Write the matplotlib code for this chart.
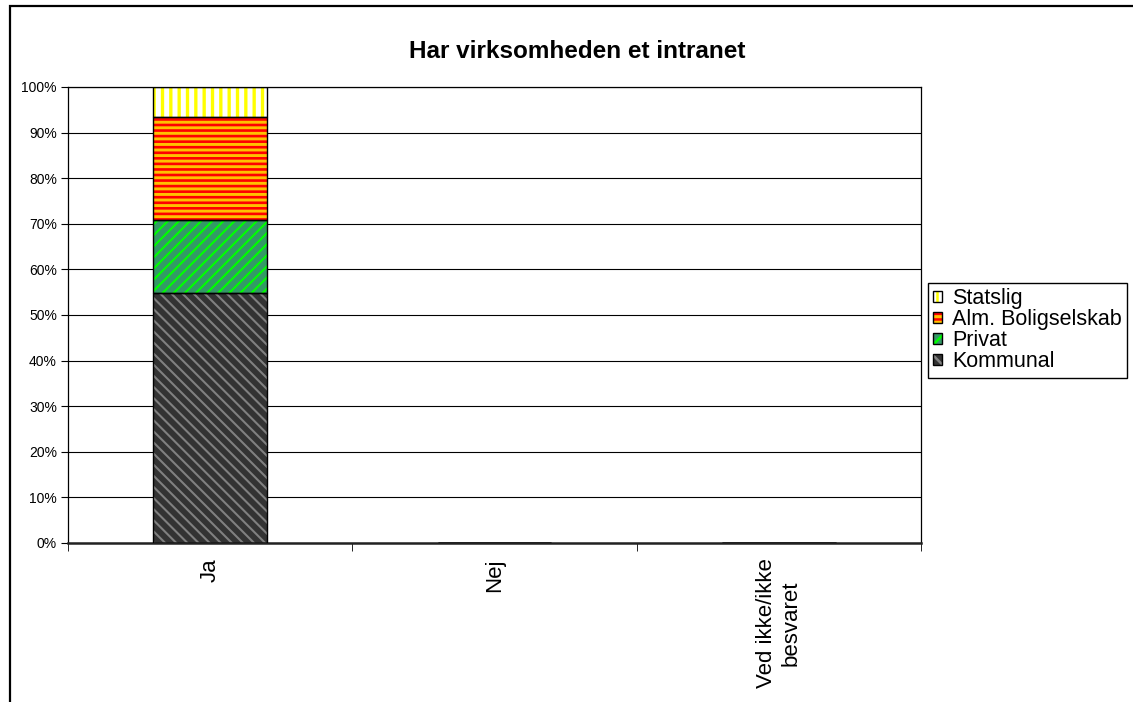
import matplotlib.pyplot as plt
import numpy as np
from matplotlib.patches import Patch, Rectangle

# data (andel i procent)
categories = ['Ja', 'Nej', 'Ved ikke/ikke\nbesvaret']
series_names = ['Kommunal', 'Privat', 'Alm. Boligselskab', 'Statslig']
kommunal = [54.8, 0, 0]
privat = [16.1, 0, 0]
alm_bolig = [22.6, 0, 0]
statslig = [6.5, 0, 0]
y_ticks = np.arange(0, 101, 10)

# fill, stripe colour, hatch, stripe width
styles = [
    ('#333333', '#808080', '\\\\\\', 1.5),
    ('#339966', '#00FF00', '///', 1.5),
    ('#FFC000', '#FF0000', '---', 1.9),
    ('#FFFFFF', '#FFFF00', '||', 2.4),
]

plt.rcParams['font.family'] = ['Liberation Sans', 'DejaVu Sans']

W, H = 1133, 702
fig = plt.figure(figsize=(W / 100, H / 100), dpi=100)
ax = fig.add_axes([68 / W, 1 - 543 / H, (921 - 68) / W, (543 - 87) / H])

x = np.arange(len(categories))
data = [kommunal, privat, alm_bolig, statslig]
bottom = np.zeros(len(categories))
handles = []
for vals, (face, hcol, hatch, hlw) in zip(data, styles):
    vals = np.array(vals)
    plt.rcParams['hatch.linewidth'] = hlw
    bars = ax.bar(x, vals, 0.4, bottom=bottom, color=face, edgecolor=hcol,
                  hatch=hatch, linewidth=0, zorder=2)
    for b in bars:
        if hasattr(b, 'set_hatch_linewidth'):
            b.set_hatch_linewidth(hlw)
    ax.bar(x, vals, 0.4, bottom=bottom, fill=False, edgecolor='black',
           linewidth=1.0, zorder=3)
    p1 = Patch(facecolor=face, edgecolor=hcol, hatch=hatch, linewidth=0)
    if hasattr(p1, 'set_hatch_linewidth'):
        p1.set_hatch_linewidth(hlw)
    p2 = Patch(fill=False, edgecolor='black', linewidth=1.0)
    handles.append((p1, p2))
    bottom += vals
plt.rcParams['hatch.linewidth'] = 1.8

ax.set_xlim(-0.5, len(categories) - 0.5)
ax.set_ylim(0, 100)
ax.set_yticks(y_ticks)
ax.set_yticklabels([f'{v}%' for v in y_ticks], fontsize=10)
ax.yaxis.grid(True, color='black', linewidth=0.8)
ax.set_axisbelow(True)

ax.set_xticks(x)
ax.set_xticklabels(categories, rotation=90, fontsize=16, va='top',
                   ha='center', multialignment='center')
ax.set_xticks(np.arange(len(categories) + 1) - 0.5, minor=True)
ax.tick_params(axis='x', which='major', length=0, pad=11)
ax.tick_params(axis='x', which='minor', length=6, color='black')
ax.tick_params(axis='y', length=5, color='black', pad=3)

for s in ['left', 'right', 'top']:
    ax.spines[s].set_color('black')
    ax.spines[s].set_linewidth(0.9)
ax.spines['bottom'].set_color('#222222')
ax.spines['bottom'].set_linewidth(1.8)

fig.text(577 / W, 1 - 52 / H, 'Har virksomheden et intranet',
         ha='center', va='center', fontsize=17.5, fontweight='bold')

leg = ax.legend(handles[::-1], series_names[::-1], loc='upper left',
                bbox_to_anchor=(928 / W, 1 - 283 / H),
                bbox_transform=fig.transFigure, fontsize=15.5,
                frameon=True, fancybox=False, edgecolor='black',
                framealpha=1, borderaxespad=0, handlelength=0.42,
                handleheight=0.42, handletextpad=0.45, labelspacing=0.0,
                borderpad=0.25)
leg.get_frame().set_linewidth(1.0)

# outer chart frame
fig.add_artist(Rectangle((10 / W, -0.1), 1.2, 1.1 - 6 / H,
                         transform=fig.transFigure, fill=False,
                         edgecolor='black', linewidth=1.6))

fig.savefig('out.png', dpi=100)
